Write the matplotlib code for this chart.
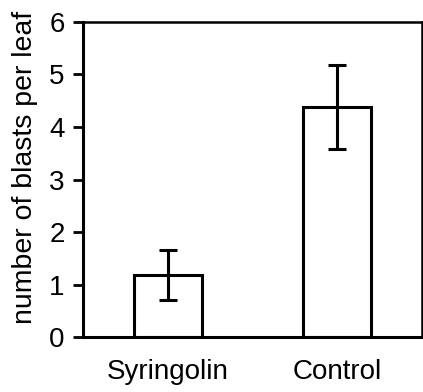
import matplotlib
matplotlib.use('Agg')
import matplotlib.pyplot as plt

plt.rcParams['font.family'] = ['Liberation Sans', 'DejaVu Sans']

# data
groups = ['Syringolin', 'Control']
blasts = [1.18, 4.38]
errors = [0.48, 0.80]
yticks = [0, 1, 2, 3, 4, 5, 6]

fig = plt.figure(figsize=(4.23, 3.92), dpi=100)
ax = fig.add_axes([0.196, 0.140, 0.802, 0.804])

pos = range(len(groups))
ax.bar(pos, blasts, width=0.4, color='white', edgecolor='black', linewidth=2.2,
       yerr=errors, error_kw=dict(ecolor='black', elinewidth=2.2, capsize=6.5, capthick=2.2))

ax.set_xlim(-0.5, 1.5)
ax.set_ylim(0, 6)
ax.set_yticks(yticks)
ax.set_xticks(list(pos))
ax.set_xticklabels(groups)
# label sits a bit above the axis centre in the original
ax.set_ylabel('number of blasts per leaf', fontsize=20.5, labelpad=8, y=0.537)

ax.tick_params(axis='y', direction='out', length=7, width=2, labelsize=20, pad=6)
ax.tick_params(axis='x', length=0, labelsize=20, pad=16)

for side in ['left', 'bottom']:
    ax.spines[side].set_linewidth(2.2)
for side in ['top', 'right']:
    ax.spines[side].set_linewidth(1.8)

fig.savefig('out.png', dpi=100)
